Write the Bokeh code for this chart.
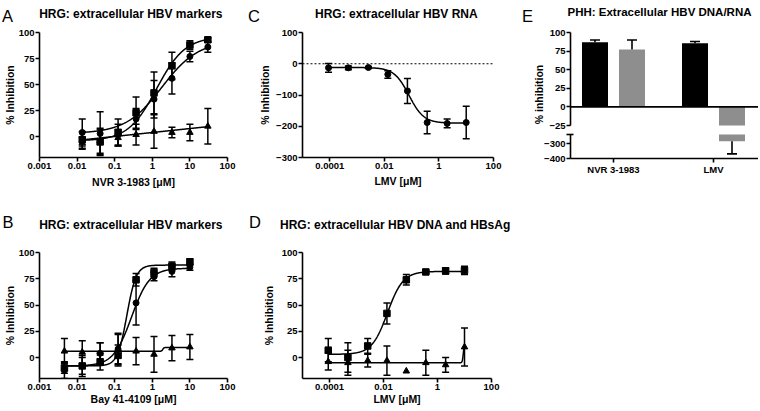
import json
import math
import numpy as np
from bokeh.plotting import figure
from bokeh.models import Range1d, FixedTicker, CustomJSTickFormatter, Span, Label, GridBox
from bokeh.layouts import column
from bokeh.embed import file_html
from bokeh.resources import INLINE

FONT = "Liberation Sans"

# ---------------- data ----------------
# Panel A: NVR 3-1983 (uM)
A_conc = [0.0137, 0.041, 0.123, 0.37, 1.11, 3.33, 10, 30]
A_sq = [-3, -5, 4, 23, 42, 68, 88, 93]
A_sq_err = [8, 12, 13, 15, 20, 13, 4, 2]
A_ci = [4, 3, 2, 17, 36, 56, 77, 86]
A_ci_err = [13, 21, 10, 10, 18, 15, 5, 5]
A_tr = [-6, -4, -1, 2, 5, 4, 4, 10]
A_tr_err = [6, 12, 8, 10, 16, 5, 8, 17]
# fits: (value at low conc, value at high conc, EC50, hill)
A_sq_fit = [-4, 96, 1.3, 1.15]
A_ci_fit = [3, 92, 1.8, 0.9]
A_tr_fit_line = [4.0, 3.8]  # intercept, slope per decade

# Panel B: Bay 41-4109 (uM)
B_conc = [0.0046, 0.0137, 0.041, 0.123, 0.37, 1.11, 3.33, 10]
B_sq = [-10, -8, -4, 2, 74, 81, 87, 91]
B_sq_err = [5, 8, 8, 10, 6, 4, 4, 3]
B_ci = [-12, -8, 4, 8, 52, 77, 82, 86]
B_ci_err = [8, 10, 10, 15, 21, 4, 5, 3]
B_tr = [6, 5, 4, 8, 6, 3, 9, 10]
B_tr_err = [12, 11, 10, 14, 13, 17, 12, 12]
B_sq_fit = [-8, 88, 0.21, 3.5]
B_ci_fit = [-8, 85, 0.28, 1.8]
B_tr_fit = [6, 9.5, 1.9, 30]

# Panels C, D: LMV (uM)
L_conc = [9e-5, 4.8e-4, 2.6e-3, 0.0134, 0.07, 0.37, 2.0, 10]
C_rna = [-13, -13, -12, -34, -87, -188, -191, -188]
C_rna_err = [14, 6, 3, 12, 40, 36, 14, 52]
C_fit = [-12, -190, 0.08, 1.6]
D_dna = [7, 0, 11, 42, 74, 81.5, 82.5, 83]
D_dna_err = [11, 14, 7, 10, 5, 1.5, 3, 4]
D_hbs = [-4, -5, -3, -3, -13, -5, -7, 10]
D_hbs_err = [8, 12, 6, 14, 0, 12, 7, 18]
D_dna_fit = [3, 82, 0.014, 1.5]
D_hbs_fit = [-5, 12, 9, 25]

# Panel E: PHH
E_cats = ["NVR 3-1983", "LMV"]
E_dna = [87, 85.5]
E_dna_err = [3, 2.4]
E_rna = [77, -285]
E_rna_err = [13, 84]

# texts
TITLES = ["HRG:  extracellular HBV markers", "HRG:  extracellular HBV markers",
          "HRG:  extracellular HBV RNA", "HRG:  extracellular HBV DNA and HBsAg",
          "PHH:  Extracellular HBV DNA/RNA"]
LETTERS = ["A", "B", "C", "D", "E"]

GRAY = "#8e8e8e"
W, H = 758, 410


def hill(x, p):
    lo, hi, ec, h = p
    x = np.asarray(x, dtype=float)
    return lo + (hi - lo) / (1.0 + (ec / x) ** h)


def style(p, ylab_standoff=0, xlab_standoff=3):
    p.outline_line_color = None
    p.grid.visible = False
    p.background_fill_color = "white"
    p.border_fill_color = "white"
    for ax in p.axis:
        ax.axis_line_width = 1.6
        ax.axis_line_color = "black"
        ax.major_tick_line_width = 1.6
        ax.major_tick_line_color = "black"
        ax.major_tick_out = 4
        ax.major_tick_in = 0
        ax.minor_tick_line_color = None
        ax.major_label_text_font = FONT
        ax.major_label_text_font_style = "bold"
        ax.major_label_text_font_size = "9.5px"
        ax.major_label_text_color = "black"
        ax.major_label_standoff = 1
        ax.axis_label_text_font = FONT
        ax.axis_label_text_font_style = "bold"
        ax.axis_label_text_font_size = "10.5px"
        ax.axis_label_text_color = "black"
    for ax in p.yaxis:
        ax.axis_label_standoff = ylab_standoff
    for ax in p.xaxis:
        ax.axis_label_standoff = xlab_standoff


num_fmt = CustomJSTickFormatter(code="return tick.toString();")


def curve_fig(geom, xr, xticks, yr, yticks, xlabel, ylabel, ys, xs):
    w, h, l, r, t, b = geom
    p = figure(width=w, height=h, x_axis_type="log", x_range=Range1d(*xr), y_range=Range1d(*yr),
               output_backend="svg", toolbar_location=None,
               min_border_left=l, min_border_right=r, min_border_top=t, min_border_bottom=b)
    p.xaxis.ticker = FixedTicker(ticks=xticks)
    p.xaxis.formatter = num_fmt
    p.yaxis.ticker = FixedTicker(ticks=yticks)
    p.xaxis.axis_label = xlabel
    p.yaxis.axis_label = ylabel
    style(p, ys, xs)
    return p


def series(p, conc, vals, errs, marker, size, fitvals=None, fitx=None):
    if fitvals is not None:
        p.line(fitx, fitvals, line_color="black", line_width=1.5)
    xs = [c for c, e in zip(conc, errs) if e > 0]
    lo = [v - e for v, e in zip(vals, errs) if e > 0]
    hi = [v + e for v, e in zip(vals, errs) if e > 0]
    p.segment(x0=xs, y0=lo, x1=xs, y1=hi, line_color="black", line_width=1.5)
    p.scatter(xs, lo, marker="dash", size=7, line_color="black", line_width=1.5)
    p.scatter(xs, hi, marker="dash", size=7, line_color="black", line_width=1.5)
    p.scatter(conc, vals, marker=marker, size=size, fill_color="black", line_color="black")


def fitx(conc):
    return np.logspace(math.log10(conc[0]), math.log10(conc[-1]), 300)


dec_ticks = [0.001, 0.01, 0.1, 1, 10, 100]
pct_ticks = [0, 25, 50, 75, 100]
lmv_ticks = [0.0001, 0.01, 1, 100]

# geometry: (width, height, border left, right, top, bottom)
gA = (246, 200, 37, 19, 32, 43)
gB = (246, 210, 37, 19, 52, 32)
gC = (264, 200, 56, 17, 32, 42)
gD = (512, 210, 55, 267, 52, 32)

# Panel A
pA = curve_fig(gA, (0.001, 100), dec_ticks, (-20, 100), pct_ticks,
               "NVR 3-1983 [\u03bcM]", "% Inhibition", 0, 4)
xa = fitx(A_conc)
series(pA, A_conc, A_sq, A_sq_err, "square", 6.5, hill(xa, A_sq_fit), xa)
series(pA, A_conc, A_ci, A_ci_err, "circle", 6, hill(xa, A_ci_fit), xa)
series(pA, A_conc, A_tr, A_tr_err, "triangle", 6.5,
       A_tr_fit_line[0] + A_tr_fit_line[1] * np.log10(xa), xa)

# Panel B
pB = curve_fig(gB, (0.001, 100), dec_ticks, (-20, 100), pct_ticks,
               "Bay 41-4109 [\u03bcM]", "% Inhibition", 0, 0)
xb = fitx(B_conc)
series(pB, B_conc, B_sq, B_sq_err, "square", 6.5, hill(xb, B_sq_fit), xb)
series(pB, B_conc, B_ci, B_ci_err, "circle", 6, hill(xb, B_ci_fit), xb)
series(pB, B_conc, B_tr, B_tr_err, "triangle", 6.5, hill(xb, B_tr_fit), xb)

# Panel C
pC = curve_fig(gC, (1e-5, 100), lmv_ticks, (-300, 100), [-300, -200, -100, 0, 100],
               "LMV [\u03bcM]", "% Inhibition", 2, 3)
pC.add_layout(Span(location=0, dimension="width", line_color="black", line_width=1.2, line_dash="2 2"))
xl = fitx(L_conc)
series(pC, L_conc, C_rna, C_rna_err, "circle", 6, hill(xl, C_fit), xl)

# Panel D
pD = curve_fig(gD, (1e-5, 100), lmv_ticks, (-20, 100), pct_ticks,
               "LMV [\u03bcM]", "% Inhibition", 4, 0)
series(pD, L_conc, D_dna, D_dna_err, "square", 6.5, hill(xl, D_dna_fit), xl)
series(pD, L_conc, D_hbs, D_hbs_err, "triangle", 6.5, hill(xl, D_hbs_fit), xl)

# Panel E (broken y axis: two stacked plots sharing x)
ex_range = Range1d(-0.43, 1.45)
pEu = figure(width=248, height=132, x_range=ex_range, y_range=Range1d(-25, 100),
             output_backend="svg", toolbar_location=None, x_axis_location=None,
             min_border_left=60, min_border_right=0, min_border_top=32, min_border_bottom=7)
pEl = figure(width=248, height=68, x_range=ex_range, y_range=Range1d(-400, -240),
             output_backend="svg", toolbar_location=None,
             min_border_left=60, min_border_right=0, min_border_top=2, min_border_bottom=42)
style(pEu)
style(pEl)
pEu.yaxis.ticker = FixedTicker(ticks=[-25, 0, 25, 50, 75, 100])
pEl.yaxis.ticker = FixedTicker(ticks=[-400, -300], minor_ticks=[-240])
pEl.yaxis.minor_tick_line_color = "black"
pEl.yaxis.minor_tick_line_width = 1.6
pEl.yaxis.minor_tick_in = 3
pEl.yaxis.minor_tick_out = 4
pEl.xaxis.ticker = FixedTicker(ticks=list(range(len(E_cats))))
pEl.xaxis.formatter = CustomJSTickFormatter(
    code="const cats = %s; return cats[Math.round(tick)];" % json.dumps(E_cats))
pEu.add_layout(Span(location=0, dimension="width", line_color="black", line_width=1.6))

idx = np.arange(len(E_cats))
x_dna = list(idx - 0.185)
x_rna = list(idx + 0.185)


def bars(pe, xs, vals, errs, color, below=None):
    keep = [i for i, v in enumerate(vals) if below is None or v < below]
    xs = [xs[i] for i in keep]
    vals = [vals[i] for i in keep]
    errs = [errs[i] for i in keep]
    if not xs:
        return
    pe.vbar(x=xs, width=0.26, top=vals, bottom=0, fill_color=color, line_color=None)
    ends = [v + (e if v >= 0 else -e) for v, e in zip(vals, errs)]
    pe.segment(x0=xs, y0=vals, x1=xs, y1=ends, line_color="black", line_width=1.6)
    pe.scatter(xs, ends, marker="dash", size=10, line_color="black", line_width=1.6)


bars(pEu, x_dna, E_dna, E_dna_err, "black")
bars(pEu, x_rna, E_rna, E_rna_err, GRAY)
# lower segment of the broken axis: only the bars that reach below the break
bars(pEl, x_dna, E_dna, E_dna_err, "black", -25)
bars(pEl, x_rna, E_rna, E_rna_err, GRAY, -25)

# transparent overlay carrying panel titles, panel letters and E's axis title
ov = figure(width=W, height=H, x_range=Range1d(0, W), y_range=Range1d(0, H),
            output_backend="svg", toolbar_location=None, x_axis_location=None, y_axis_location=None,
            min_border=0, min_border_left=0, min_border_right=0, min_border_top=0, min_border_bottom=0)
ov.outline_line_color = None
ov.background_fill_color = None
ov.border_fill_color = None
ov.grid.visible = False
for g in list(ov.xgrid) + list(ov.ygrid):
    g.grid_line_color = None


def otext(x, y, text, size, style="normal", align="left", baseline="alphabetic", angle=0.0):
    ov.add_layout(Label(x=x, y=H - y, text=text, angle=angle, text_font=FONT,
                        text_font_size=size, text_font_style=style, text_color="black",
                        text_align=align, text_baseline=baseline))


title_pos = [(132, 13.3), (132, 224), (397.5, 13.3), (396.5, 224)]
for (tx, ty), t in zip(title_pos, TITLES[:4]):
    otext(tx, ty, t, "12px", "bold", "center", "middle")
otext(567, 11.7, TITLES[4], "11.5px", "bold", "left", "middle")

letter_pos = [(1.5, 15), (2, 221), (247.5, 15), (248.5, 221), (521.5, 15)]
for (lx, ly), t in zip(letter_pos, LETTERS):
    otext(lx, ly, t, "16.5px")

otext(538.5, 94, "% inhibition", "10.5px", "bold", "center", "middle", math.pi / 2)

colE = column(pEu, pEl)
ovbox = column(ov)
grid = GridBox(children=[(pA, 0, 0), (pC, 0, 1), (colE, 0, 2), (pB, 1, 0), (pD, 1, 1, 1, 2),
                         (ovbox, 0, 0, 2, 3)])
open("out.html", "w").write(file_html(grid, INLINE))
